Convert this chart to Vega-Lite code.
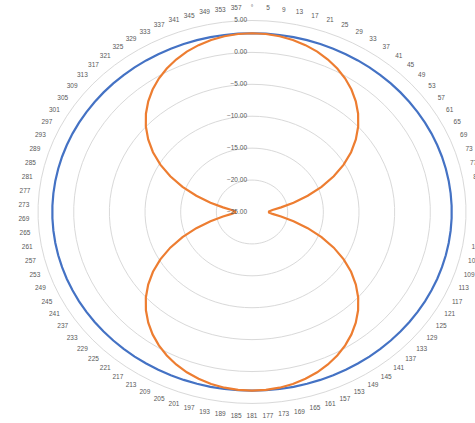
{
  "$schema": "https://vega.github.io/schema/vega-lite/v6.json",
  "width": 475,
  "height": 423,
  "autosize": {"type": "none"},
  "padding": 0,
  "background": "white",
  "config": {"view": {"stroke": null}},
  "data": {"values": [
    {"deg":1,"omni":3.0,"fig8":3.00},{"deg":5,"omni":3.0,"fig8":2.95},{"deg":9,"omni":3.0,"fig8":2.80},{"deg":13,"omni":3.0,"fig8":2.55},{"deg":17,"omni":3.0,"fig8":2.19},{"deg":21,"omni":3.0,"fig8":1.73},{"deg":25,"omni":3.0,"fig8":1.15},{"deg":29,"omni":3.0,"fig8":0.46},{"deg":33,"omni":3.0,"fig8":-0.35},{"deg":37,"omni":3.0,"fig8":-1.29},{"deg":41,"omni":3.0,"fig8":-2.37},{"deg":45,"omni":3.0,"fig8":-3.59},{"deg":49,"omni":3.0,"fig8":-4.97},{"deg":53,"omni":3.0,"fig8":-6.53},{"deg":57,"omni":3.0,"fig8":-8.25},{"deg":61,"omni":3.0,"fig8":-10.16},{"deg":65,"omni":3.0,"fig8":-12.25},{"deg":69,"omni":3.0,"fig8":-14.49},{"deg":73,"omni":3.0,"fig8":-16.79},{"deg":77,"omni":3.0,"fig8":-19.00},{"deg":81,"omni":3.0,"fig8":-20.87},{"deg":85,"omni":3.0,"fig8":-22.12},{"deg":89,"omni":3.0,"fig8":-22.62},
    {"deg":93,"omni":3.0,"fig8":-22.62},{"deg":97,"omni":3.0,"fig8":-22.12},{"deg":101,"omni":3.0,"fig8":-20.87},{"deg":105,"omni":3.0,"fig8":-19.00},{"deg":109,"omni":3.0,"fig8":-16.79},{"deg":113,"omni":3.0,"fig8":-14.49},{"deg":117,"omni":3.0,"fig8":-12.25},{"deg":121,"omni":3.0,"fig8":-10.16},{"deg":125,"omni":3.0,"fig8":-8.25},{"deg":129,"omni":3.0,"fig8":-6.53},{"deg":133,"omni":3.0,"fig8":-4.97},{"deg":137,"omni":3.0,"fig8":-3.59},{"deg":141,"omni":3.0,"fig8":-2.37},{"deg":145,"omni":3.0,"fig8":-1.29},{"deg":149,"omni":3.0,"fig8":-0.35},{"deg":153,"omni":3.0,"fig8":0.46},{"deg":157,"omni":3.0,"fig8":1.15},{"deg":161,"omni":3.0,"fig8":1.73},{"deg":165,"omni":3.0,"fig8":2.19},{"deg":169,"omni":3.0,"fig8":2.55},{"deg":173,"omni":3.0,"fig8":2.80},{"deg":177,"omni":3.0,"fig8":2.95},
    {"deg":181,"omni":3.0,"fig8":3.00},{"deg":185,"omni":3.0,"fig8":2.95},{"deg":189,"omni":3.0,"fig8":2.80},{"deg":193,"omni":3.0,"fig8":2.55},{"deg":197,"omni":3.0,"fig8":2.19},{"deg":201,"omni":3.0,"fig8":1.73},{"deg":205,"omni":3.0,"fig8":1.15},{"deg":209,"omni":3.0,"fig8":0.46},{"deg":213,"omni":3.0,"fig8":-0.35},{"deg":217,"omni":3.0,"fig8":-1.29},{"deg":221,"omni":3.0,"fig8":-2.37},{"deg":225,"omni":3.0,"fig8":-3.59},{"deg":229,"omni":3.0,"fig8":-4.97},{"deg":233,"omni":3.0,"fig8":-6.53},{"deg":237,"omni":3.0,"fig8":-8.25},{"deg":241,"omni":3.0,"fig8":-10.16},{"deg":245,"omni":3.0,"fig8":-12.25},{"deg":249,"omni":3.0,"fig8":-14.49},{"deg":253,"omni":3.0,"fig8":-16.79},{"deg":257,"omni":3.0,"fig8":-19.00},{"deg":261,"omni":3.0,"fig8":-20.87},{"deg":265,"omni":3.0,"fig8":-22.12},{"deg":269,"omni":3.0,"fig8":-22.62},
    {"deg":273,"omni":3.0,"fig8":-22.62},{"deg":277,"omni":3.0,"fig8":-22.12},{"deg":281,"omni":3.0,"fig8":-20.87},{"deg":285,"omni":3.0,"fig8":-19.00},{"deg":289,"omni":3.0,"fig8":-16.79},{"deg":293,"omni":3.0,"fig8":-14.49},{"deg":297,"omni":3.0,"fig8":-12.25},{"deg":301,"omni":3.0,"fig8":-10.16},{"deg":305,"omni":3.0,"fig8":-8.25},{"deg":309,"omni":3.0,"fig8":-6.53},{"deg":313,"omni":3.0,"fig8":-4.97},{"deg":317,"omni":3.0,"fig8":-3.59},{"deg":321,"omni":3.0,"fig8":-2.37},{"deg":325,"omni":3.0,"fig8":-1.29},{"deg":329,"omni":3.0,"fig8":-0.35},{"deg":333,"omni":3.0,"fig8":0.46},{"deg":337,"omni":3.0,"fig8":1.15},{"deg":341,"omni":3.0,"fig8":1.73},{"deg":345,"omni":3.0,"fig8":2.19},{"deg":349,"omni":3.0,"fig8":2.55},{"deg":353,"omni":3.0,"fig8":2.80},{"deg":357,"omni":3.0,"fig8":2.95}
  ]},
  "transform": [
    {"calculate": "(datum.deg - 1) * PI / 180", "as": "th"}
  ],
  "encoding": {
    "x": {"field": "x", "type": "quantitative", "scale": {"domain": [-35.33, 31.26], "nice": false, "zero": false}, "axis": null},
    "y": {"field": "y", "type": "quantitative", "scale": {"domain": [-33.06, 33.21], "nice": false, "zero": false}, "axis": null}
  },
  "layer": [
    {
      "transform": [
        {"fold": ["-20", "-15", "-10", "-5", "0", "5"], "as": ["lv", "u"]},
        {"calculate": "toNumber(datum.lv) + 25", "as": "r"},
        {"calculate": "datum.r * sin(datum.th)", "as": "x"},
        {"calculate": "datum.r * cos(datum.th)", "as": "y"}
      ],
      "mark": {"type": "line", "interpolate": "linear-closed", "stroke": "#d9d9d9", "strokeWidth": 1},
      "encoding": {"detail": {"field": "lv"}, "order": {"field": "deg", "type": "quantitative"}}
    },
    {
      "transform": [
        {"calculate": "(datum.omni + 25) * sin(datum.th)", "as": "x"},
        {"calculate": "(datum.omni + 25) * cos(datum.th)", "as": "y"}
      ],
      "mark": {"type": "line", "interpolate": "linear-closed", "stroke": "#4472C4", "strokeWidth": 2.2},
      "encoding": {"order": {"field": "deg", "type": "quantitative"}}
    },
    {
      "transform": [
        {"calculate": "(datum.fig8 + 25) * sin(datum.th)", "as": "x"},
        {"calculate": "(datum.fig8 + 25) * cos(datum.th)", "as": "y"}
      ],
      "mark": {"type": "line", "interpolate": "linear-closed", "stroke": "#ED7D31", "strokeWidth": 2.2},
      "encoding": {"order": {"field": "deg", "type": "quantitative"}}
    },
    {
      "transform": [
        {"calculate": "32 * sin(datum.th)", "as": "x"},
        {"calculate": "32 * cos(datum.th)", "as": "y"},
        {"calculate": "datum.deg == 1 ? '°' : '' + datum.deg", "as": "lab"}
      ],
      "mark": {"type": "text", "font": "Liberation Sans", "fontSize": 6.5, "color": "#595959", "fill": "#595959", "align": "center", "baseline": "middle"},
      "encoding": {"text": {"field": "lab"}}
    },
    {
      "data": {"values": [{"lv": 5}, {"lv": 0}, {"lv": -5}, {"lv": -10}, {"lv": -15}, {"lv": -20}, {"lv": -25}]},
      "transform": [
        {"calculate": "0", "as": "x"},
        {"calculate": "datum.lv + 25", "as": "y"}
      ],
      "mark": {"type": "text", "font": "Liberation Sans", "fontSize": 6.5, "color": "#595959", "fill": "#595959", "align": "right", "baseline": "middle", "dx": -5},
      "encoding": {"text": {"field": "lv", "type": "quantitative", "format": ".2f"}}
    }
  ]
}
